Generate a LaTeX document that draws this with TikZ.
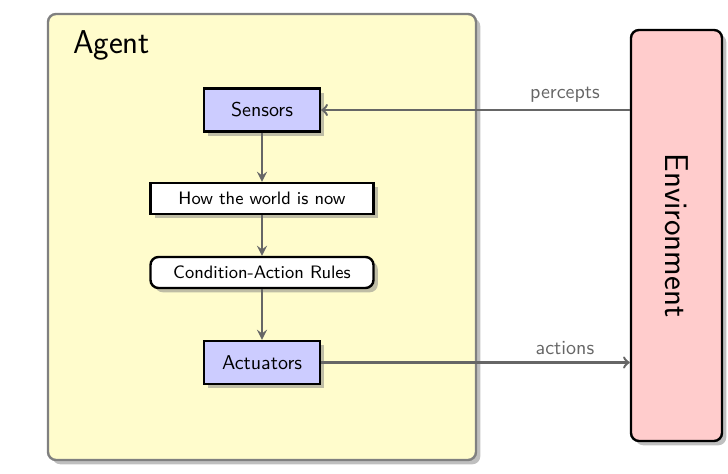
\documentclass[tikz,border=0pt]{standalone}
\usetikzlibrary{shadows,arrows}
\begin{document}
\begin{tikzpicture}[x=0.5pt,y=-0.5pt,
    every node/.style={font=\sffamily},
    unit/.style={draw,very thick,fill=blue!20,drop shadow,minimum width=58pt,minimum height=21.5pt},
    inner/.style={draw,very thick,fill=white,drop shadow,font=\sffamily\small,minimum width=111.5pt,minimum height=15.5pt,inner sep=1pt},
    link/.style={very thick,draw=black!60},
    label/.style={text=black!60,above},
]
    \useasboundingbox (0,0) rectangle (728,474);
    % agent and environment
    \node[draw=black!50,very thick,rounded corners=4pt,fill=yellow!20,drop shadow,minimum width=214pt,minimum height=223pt] (agent) at (262,237) {};
    \node[anchor=west,font=\sffamily\fontsize{16.5}{20}\selectfont] (agentname) at (66,45) {Agent};
    \node[draw,very thick,rounded corners=4pt,fill=red!20,drop shadow,minimum width=45.5pt,minimum height=205.5pt] (env) at (676.5,235.5) {};
    \node[rotate=-90,font=\sffamily\fontsize{16.5}{20}\selectfont] (envname) at (env.center) {Environment};
    % inside the agent
    \node[unit] (sensors) at (262,110) {Sensors};
    \node[inner] (world) at (262,198.5) {How the world is now};
    \node[inner,rounded corners=4pt] (rules) at (262,272.5) {Condition-Action Rules};
    \node[unit] (actuators) at (262,362.5) {Actuators};
    \draw[link,-stealth] (sensors) -- (world);
    \draw[link,-stealth] (world) -- (rules);
    \draw[link,-stealth] (rules) -- (actuators);
    % percepts and actions
    \draw[link,->] (env.west |- sensors) -- (sensors) node[label,pos=0.21] {percepts};
    \draw[link,->] (actuators) -- (env.west |- actuators) node[label,pos=0.79] {actions};
\end{tikzpicture}
\end{document}
